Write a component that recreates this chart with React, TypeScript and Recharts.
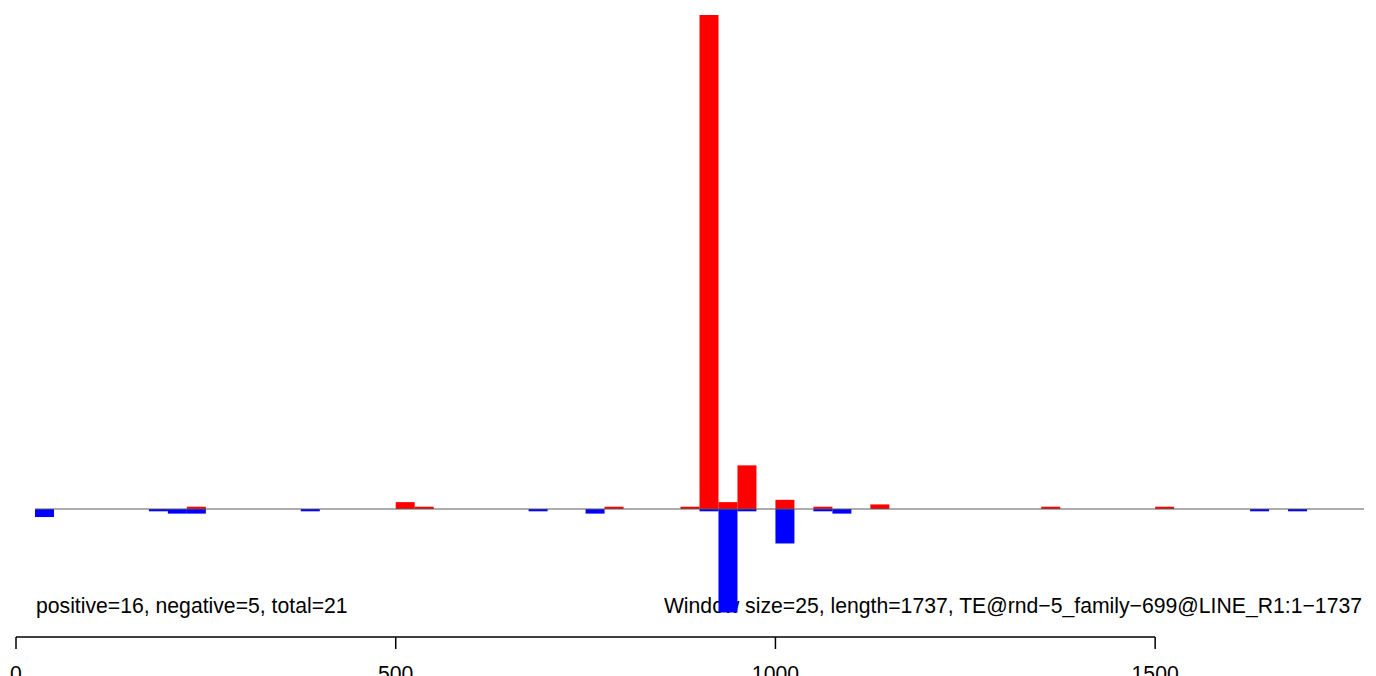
import React from "react";
import { ComposedChart, Bar, XAxis, YAxis, ReferenceLine, Customized } from "recharts";

// window starts (window size = 25)
const binStarts = [
  0, 25, 50, 75, 100, 125, 150, 175, 200, 225, 250, 275, 300, 325, 350, 375, 400, 425, 450, 475,
  500, 525, 550, 575, 600, 625, 650, 675, 700, 725, 750, 775, 800, 825, 850, 875, 900, 925, 950, 975,
  1000, 1025, 1050, 1075, 1100, 1125, 1150, 1175, 1200, 1225, 1250, 1275, 1300, 1325, 1350, 1375,
  1400, 1425, 1450, 1475, 1500, 1525, 1550, 1575, 1600, 1625, 1650, 1675, 1700, 1725, 1750,
];

const positiveBins = [225, 500, 525, 775, 875, 900, 925, 950, 1000, 1050, 1125, 1350, 1500];
const positiveValues = [1, 3, 1, 1, 1, 215, 3, 19, 4, 1, 2, 1, 1];

const negativeBins = [25, 175, 200, 225, 375, 675, 750, 900, 925, 950, 1000, 1050, 1075, 1625, 1675];
const negativeValues = [3.5, 1, 2, 2, 1, 1, 2, 1, 45, 1, 15, 1, 2, 1, 1];

const axisTicks = [0, 500, 1000, 1500];
const windowSize = 25;

const leftText = "positive=16, negative=5, total=21";
const rightText = "Window size=25, length=1737, TE@rnd\u22125_family\u2212699@LINE_R1:1\u22121737";

const Y_MAX = 215;
const Y_MIN = -55.7;
const X_END = 1775;

const data = binStarts.map((b) => {
  const pi = positiveBins.indexOf(b);
  const ni = negativeBins.indexOf(b);
  return {
    bin: b,
    pos: pi >= 0 ? positiveValues[pi] : 0,
    neg: ni >= 0 ? -negativeValues[ni] : 0,
  };
});

const FONT = "'Liberation Sans', Arial, Helvetica, sans-serif";

const Texts = () => (
  <g>
    <text x={36} y={613} fontSize={21.2} fontFamily={FONT} fill="#000" textAnchor="start">
      {leftText}
    </text>
    <text x={1362} y={613} fontSize={21.2} fontFamily={FONT} fill="#000" textAnchor="end">
      {rightText}
    </text>
  </g>
);

export default function App() {
  return (
    <div style={{ position: "absolute", left: 0, top: 0, width: 1376, height: 676, background: "#fff" }}>
      <ComposedChart
        width={1376}
        height={676}
        data={data}
        stackOffset="sign"
        barCategoryGap={0}
        barGap={0}
        margin={{ top: 15, right: 12, bottom: 0, left: 16 }}
      >
        <XAxis xAxisId="cat" dataKey="bin" type="category" orientation="top" height={0} hide />
        <XAxis
          xAxisId="num"
          dataKey="bin"
          type="number"
          domain={[0, X_END]}
          ticks={axisTicks}
          allowDataOverflow
          axisLine={false}
          tickLine={{ stroke: "#000", strokeWidth: 1.5 }}
          tickSize={12}
          tickMargin={17}
          height={39}
          interval={0}
          tick={{ fontSize: 21.2, fill: "#000", fontFamily: FONT }}
        />
        <YAxis hide domain={[Y_MIN, Y_MAX]} allowDataOverflow />
        <ReferenceLine
          xAxisId="num"
          segment={[{ x: windowSize, y: 0 }, { x: X_END, y: 0 }]}
          stroke="#5a5a5a"
          strokeWidth={1}
          ifOverflow="visible"
        />
        <ReferenceLine
          xAxisId="num"
          segment={[{ x: 0, y: Y_MIN }, { x: 1500, y: Y_MIN }]}
          stroke="#000"
          strokeWidth={1.5}
          ifOverflow="visible"
        />
        <Bar xAxisId="cat" dataKey="pos" stackId="s" fill="#ff0000" isAnimationActive={false} />
        <Bar xAxisId="cat" dataKey="neg" stackId="s" fill="#0000ff" isAnimationActive={false} />
        <Customized component={Texts} />
      </ComposedChart>
    </div>
  );
}
